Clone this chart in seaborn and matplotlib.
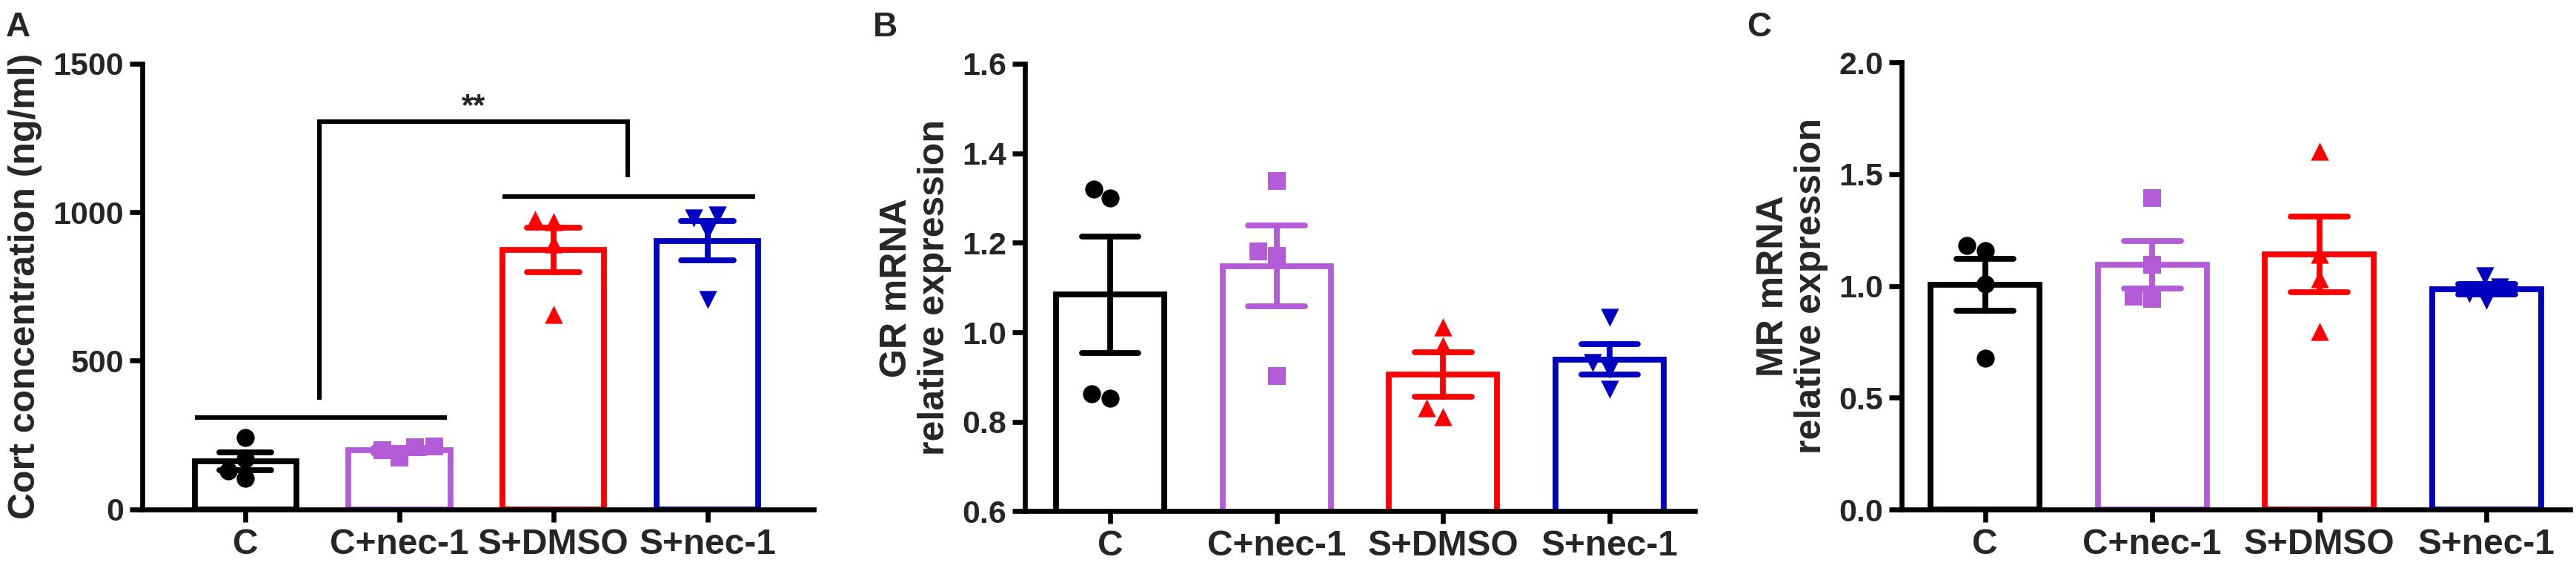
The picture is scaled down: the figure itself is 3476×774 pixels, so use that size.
import pandas as pd
import seaborn as sns
import matplotlib.pyplot as plt

# groups and colours
groups = ['C', 'C+nec-1', 'S+DMSO', 'S+nec-1']
colors = ['#000000', '#B45CD7', '#FF0000', '#0000C0']
markers = ['o', 's', '^', 'v']

# A: cort concentration (ng/ml), 4 animals per group
cort_c = [241, 170, 104, 130]
cort_cnec = [208, 174, 199, 212]
cort_sdmso = [968, 976, 892, 655]
cort_snec = [980, 991, 939, 706]

# B: GR mRNA relative expression
gr_c = [1.320, 1.300, 0.853, 0.863]
gr_cnec = [1.339, 1.180, 1.171, 0.902]
gr_sdmso = [1.011, 0.970, 0.831, 0.812]
gr_snec = [1.033, 0.933, 0.917, 0.873]

# C: MR mRNA relative expression
mr_c = [1.182, 1.157, 1.008, 0.678]
mr_cnec = [1.393, 1.094, 0.941, 0.952]
mr_sdmso = [1.602, 1.140, 1.032, 0.795]
mr_snec = [1.046, 0.994, 0.966, 0.936]


def make_df(*series):
    rows = []
    for g, vals in zip(groups, series):
        for v in vals:
            rows.append({'group': g, 'value': v})
    return pd.DataFrame(rows)


cort = make_df(cort_c, cort_cnec, cort_sdmso, cort_snec)
gr = make_df(gr_c, gr_cnec, gr_sdmso, gr_snec)
mr = make_df(mr_c, mr_cnec, mr_sdmso, mr_snec)

sns.set_style('ticks')
plt.rcParams['font.family'] = ['Liberation Sans', 'DejaVu Sans']
plt.rcParams['font.weight'] = 'bold'
plt.rcParams['axes.labelweight'] = 'bold'

fig = plt.figure(figsize=(34.76, 7.74), dpi=100)
ax_a = fig.add_axes([0.0552, 0.1128, 0.2607, 0.7761])
ax_b = fig.add_axes([0.3979, 0.1092, 0.2600, 0.7797])
ax_c = fig.add_axes([0.7382, 0.1124, 0.2595, 0.7787])


def draw_panel(ax, df, bar_width):
    for g, c, m in zip(groups, colors, markers):
        sub = df[df['group'] == g]
        sns.barplot(
            data=sub, x='group', y='value', order=groups, ax=ax,
            color=c, fill=False, width=bar_width, linewidth=5.6,
            errorbar='se', capsize=0.34,
            err_kws={'color': c, 'linewidth': 5.6}
        )
        sns.swarmplot(
            data=sub, x='group', y='value', order=groups, ax=ax,
            color=c, marker=m, size=17.5, linewidth=0
        )
    ax.set_xlabel('')
    for side in ['top', 'right']:
        ax.spines[side].set_visible(False)
    for side in ['left', 'bottom']:
        ax.spines[side].set_linewidth(4.8)
        ax.spines[side].set_color('black')
    ax.tick_params(axis='both', length=12, width=4.8, direction='out',
                   pad=6, color='black')
    ax.tick_params(axis='x', labelsize=34.5)
    ax.tick_params(axis='y', labelsize=31)
    ax.set_xticks(range(len(groups)))
    ax.set_xticklabels(groups, fontweight='bold')


# panel A
draw_panel(ax_a, cort, 0.66)
ax_a.set_ylim(0, 1500)
ax_a.set_yticks([0, 500, 1000, 1500])
ax_a.set_yticklabels(['0', '500', '1000', '1500'], fontweight='bold')
ax_a.set_xlim(-0.67, 3.69)
ax_a.set_ylabel('Cort concentration (ng/ml)', fontsize=36, labelpad=10)

# significance bars
line_kw = dict(color='black', linewidth=4.3, solid_capstyle='butt',
               solid_joinstyle='miter', clip_on=False)
ax_a.plot([-0.33, 1.31], [309, 309], **line_kw)
ax_a.plot([1.67, 3.31], [1053, 1053], **line_kw)
ax_a.plot([0.48, 0.48, 2.48, 2.48], [370, 1306, 1306, 1117], **line_kw)
ax_a.text(1.48, 1328, '**', ha='center', va='baseline', fontsize=30,
          fontweight='bold')

# panel B
draw_panel(ax_b, gr, 0.65)
ax_b.set_ylim(0.6, 1.6)
b_ticks = [0.6, 0.8, 1.0, 1.2, 1.4, 1.6]
ax_b.set_yticks(b_ticks)
ax_b.set_yticklabels([f'{t:.1f}' for t in b_ticks], fontweight='bold')
ax_b.set_xlim(-0.51, 3.51)
ax_b.set_ylabel('GR mRNA\nrelative expression', fontsize=36, labelpad=10,
                linespacing=1.15)

# panel C
draw_panel(ax_c, mr, 0.65)
ax_c.set_ylim(0, 2.0)
c_ticks = [0.0, 0.5, 1.0, 1.5, 2.0]
ax_c.set_yticks(c_ticks)
ax_c.set_yticklabels([f'{t:.1f}' for t in c_ticks], fontweight='bold')
ax_c.set_xlim(-0.50, 3.50)
ax_c.set_ylabel('MR mRNA\nrelative expression', fontsize=36, labelpad=10,
                linespacing=1.15)

# panel letters
for x, letter in [(0.0023, 'A'), (0.3389, 'B'), (0.6780, 'C')]:
    fig.text(x, 0.981, letter, ha='left', va='top', fontsize=33,
             fontweight='bold')

plt.savefig('out.png', dpi=100)
